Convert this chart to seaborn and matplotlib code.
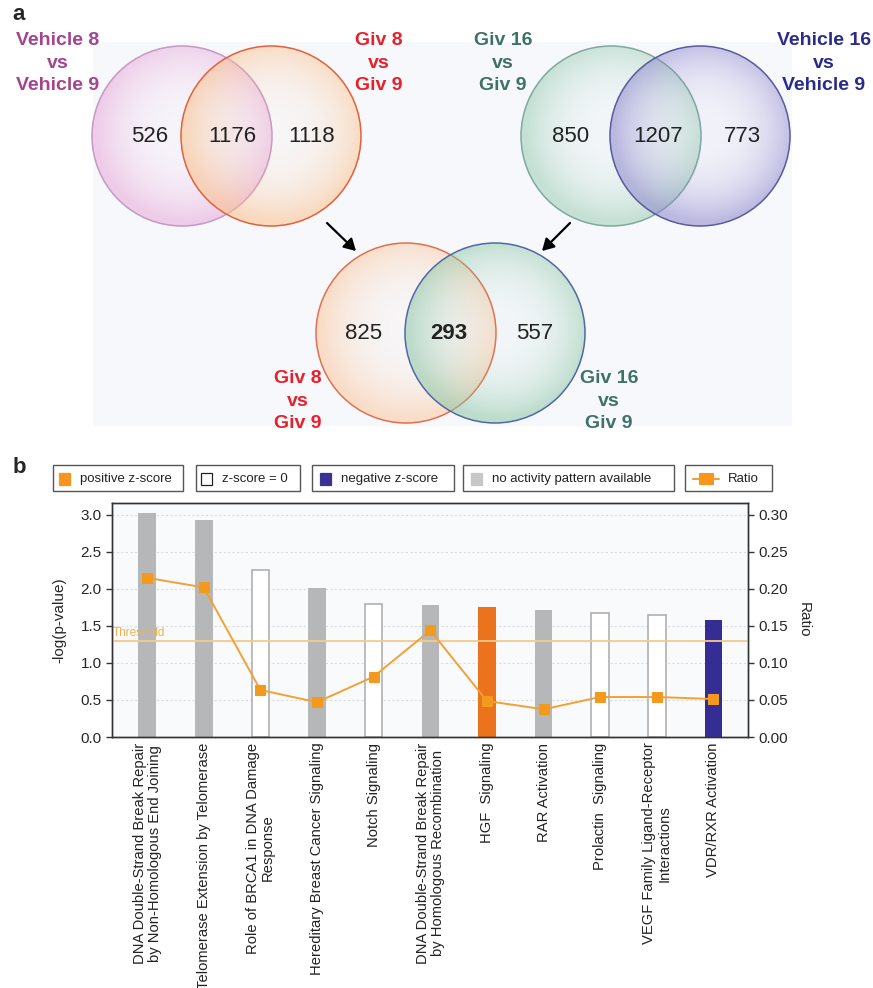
import numpy as np
import pandas as pd
import matplotlib
matplotlib.use('Agg')
from matplotlib import pyplot as plt
from matplotlib.colors import to_rgb
from matplotlib.patches import Circle, Rectangle, FancyArrowPatch
from matplotlib.lines import Line2D
import seaborn as sns

# ---- panel a: gene counts per Venn region (left only, shared, right only)
top_left_counts = [526, 1176, 1118]
top_right_counts = [850, 1207, 773]
bottom_counts = [825, 293, 557]

top_left_sets = ['Vehicle 8\nvs\nVehicle 9', 'Giv 8\nvs\nGiv 9']
top_right_sets = ['Giv 16\nvs\nGiv 9', 'Vehicle 16\nvs\nVehicle 9']
bottom_sets = ['Giv 8\nvs\nGiv 9', 'Giv 16\nvs\nGiv 9']

# ---- panel b: canonical pathways
pathways = [
    'DNA Double-Strand Break Repair\nby Non-Homologous End Joining',
    'Telomerase Extension by Telomerase',
    'Role of BRCA1 in DNA Damage\nResponse',
    'Hereditary Breast Cancer Signaling',
    'Notch Signaling',
    'DNA Double-Strand Break Repair\nby Homologous Recombination',
    'HGF  Signaling',
    'RAR Activation',
    'Prolactin  Signaling',
    'VEGF Family Ligand-Receptor\nInteractions',
    'VDR/RXR Activation',
]
neg_log_p = [3.03, 2.93, 2.26, 2.01, 1.80, 1.78, 1.76, 1.72, 1.67, 1.65, 1.58]
ratio = [0.215, 0.202, 0.0635, 0.047, 0.0815, 0.144, 0.0486, 0.0374, 0.054, 0.054, 0.0513]
z_status = ['none', 'none', 'zero', 'none', 'zero', 'none',
            'positive', 'none', 'zero', 'zero', 'negative']
threshold = 1.3
legend_labels = ['positive z-score', 'z-score = 0', 'negative z-score',
                 'no activity pattern available', 'Ratio']

status_fill = {'positive': '#ec731e', 'zero': '#ffffff',
               'negative': '#352d93', 'none': '#b5b7b9'}
ratio_color = '#f3a133'

sns.set_style('ticks')
plt.rcParams['font.family'] = ['Liberation Sans', 'DejaVu Sans']

fig = plt.figure(figsize=(8.73, 9.88), dpi=100)

# overlay in pixel coordinates for the Venn panel and the legend strip
ov = fig.add_axes([0, 0, 1, 1], zorder=0)
ov.set_facecolor('white')


def venn_circle(ax, cx, cy, r, edge, fill, z):
    n = 300
    yy, xx = np.mgrid[-1:1:n * 1j, -1:1:n * 1j]
    d = np.clip(np.hypot(xx - 0.05, yy + 0.05), 0, 1)
    rgba = np.zeros((n, n, 4))
    rgba[..., :3] = to_rgb(fill)
    rgba[..., 3] = 0.05 + 0.5 * d ** 2.5
    im = ax.imshow(rgba, extent=(cx - r, cx + r, cy + r, cy - r), zorder=z,
                   interpolation='bilinear', aspect='auto')
    circ = Circle((cx, cy), r, facecolor='none', edgecolor=edge, lw=1.1, zorder=z + 0.1)
    ax.add_patch(circ)
    im.set_clip_path(circ)


ov.add_patch(Rectangle((93, 42), 699, 384, facecolor='#f7f8fc', edgecolor='none', zorder=0.5))

r = 90
venn_circle(ov, 182, 136, r, '#c49ac4', '#e8a8d8', 1)
venn_circle(ov, 271, 136, r, '#e2603c', '#fbbf88', 2)
venn_circle(ov, 611, 136, r, '#7fa99c', '#9ccdb4', 1)
venn_circle(ov, 700, 136, r, '#5a5a9e', '#8c86cc', 2)
venn_circle(ov, 406, 333, r, '#e27050', '#fbc79c', 1)
venn_circle(ov, 495, 333, r, '#5068a6', '#8cc6a6', 2)

num_kw = dict(fontsize=16, ha='center', va='center', color='#222222', zorder=5)
for x, v in zip([150, 232, 312], top_left_counts):
    ov.text(x, 137, str(v), **num_kw)
for x, v in zip([571, 658, 742], top_right_counts):
    ov.text(x, 137, str(v), **num_kw)
for i, (x, v) in enumerate(zip([364, 449, 535], bottom_counts)):
    ov.text(x, 333, str(v), fontweight='bold' if i == 1 else 'normal', **num_kw)

lab_kw = dict(fontsize=14, fontweight='bold', ha='center', va='center',
              multialignment='center', linespacing=1.4, zorder=5)
ov.text(58, 63, top_left_sets[0], color='#a4448e', **lab_kw)
ov.text(379, 63, top_left_sets[1], color='#e8202a', **lab_kw)
ov.text(503, 63, top_right_sets[0], color='#3f7169', **lab_kw)
ov.text(824, 63, top_right_sets[1], color='#2b2b8c', **lab_kw)
ov.text(298, 401, bottom_sets[0], color='#e8202a', **lab_kw)
ov.text(609, 401, bottom_sets[1], color='#3f7169', **lab_kw)

for start, end in [((327, 223), (356, 251)), ((570, 223), (542, 251))]:
    ov.add_patch(FancyArrowPatch(start, end, arrowstyle='-|>,head_length=7,head_width=4',
                                 color='black', lw=1.6, zorder=6, shrinkA=0, shrinkB=0))

ov.text(19, 15, 'a', fontsize=16, fontweight='bold', ha='center', va='center')
ov.text(19, 467, 'b', fontsize=16, fontweight='bold', ha='center', va='center')

# legend strip
boxes = [(53, 183), (196, 300), (312, 454), (463, 674), (685, 772)]
swatches = ['positive', 'zero', 'negative', 'none', None]
text_x = [80, 222, 341, 492, 728]
for (x0, x1), lab, sw, tx in zip(boxes, legend_labels, swatches, text_x):
    ov.add_patch(Rectangle((x0, 465), x1 - x0, 26, facecolor='white',
                           edgecolor='#555555', lw=1, zorder=3))
    if sw is not None:
        fc = {'positive': '#f7951f', 'zero': 'white',
              'negative': '#3a3292', 'none': '#c6c7c9'}[sw]
        ov.add_patch(Rectangle((tx - 21, 473), 11, 12, facecolor=fc,
                               edgecolor='#222222' if sw == 'zero' else fc, lw=0.9, zorder=4))
    else:
        ov.add_line(Line2D([693, 719], [479, 479], color=ratio_color, lw=1.5, zorder=4))
        ov.add_patch(Rectangle((699, 473), 15, 12, facecolor='#f7951f',
                               edgecolor='none', zorder=5))
    ov.text(tx, 479, lab, fontsize=9.5, va='center', ha='left', color='#222222', zorder=4)

ov.set_xlim(0, 873)
ov.set_ylim(988, 0)
ov.axis('off')

# ---- panel b bar chart
ax = fig.add_axes([112 / 873, 251 / 988, 636 / 873, 234 / 988], zorder=1)
ax.set_facecolor('#f9fafc')
df = pd.DataFrame({'pathway': pathways, 'neglogp': neg_log_p, 'status': z_status})
sns.barplot(data=df, x='pathway', y='neglogp', hue='pathway',
            palette=[status_fill[s] for s in z_status], width=0.31,
            legend=False, ax=ax, saturation=1, zorder=2)
for patch, s in zip(ax.patches, z_status):
    if s == 'zero':
        patch.set_edgecolor('#b0b0b0')
        patch.set_linewidth(1.2)
    else:
        patch.set_edgecolor('none')

ax.axhline(threshold, color='#f7c98a', lw=1.3, zorder=3)
ax.text(-0.6, threshold + 0.03, 'Threshold', color='#f2b24a', fontsize=8.5,
        va='bottom', ha='left', zorder=4)

ax.set_xlim(-0.62, 10.61)
ax.set_ylim(0, 3.16)
ax.set_yticks(np.arange(0, 3.01, 0.5))
ax.set_yticklabels([f'{v:.1f}' for v in np.arange(0, 3.01, 0.5)], fontsize=11)
ax.set_xticks(range(len(pathways)))
ax.set_xticklabels(pathways, rotation=90, fontsize=10.6, multialignment='center',
                   linespacing=1.1, color='#222222')
ax.tick_params(axis='x', length=0, pad=4)
ax.tick_params(axis='y', length=4, width=1, color='#333333')
ax.yaxis.grid(True, linestyle=(0, (2, 2)), color='#dcdcdc', lw=0.8)
ax.set_axisbelow(True)
ax.set_xlabel('')
ax.set_ylabel('-log(p-value)', fontsize=11, labelpad=10)
for sp in ax.spines.values():
    sp.set_color('#333333')
    sp.set_linewidth(1)

ax2 = ax.twinx()
ax2.set_zorder(2)
sns.lineplot(x=np.arange(len(ratio)), y=ratio, ax=ax2, color=ratio_color, lw=1.4,
             marker='s', markersize=7, markerfacecolor='#f39a1e',
             markeredgecolor='#f39a1e')
ax2.set_ylim(0, 0.316)
ax2.set_yticks(np.arange(0, 0.301, 0.05))
ax2.set_yticklabels([f'{v:.2f}' for v in np.arange(0, 0.301, 0.05)], fontsize=11)
ax2.tick_params(axis='y', length=4, width=1, color='#333333')
ax2.set_ylabel('Ratio', fontsize=11, rotation=270, labelpad=16)
for sp in ax2.spines.values():
    sp.set_color('#333333')
    sp.set_linewidth(1)

fig.savefig('out.png', dpi=100)
